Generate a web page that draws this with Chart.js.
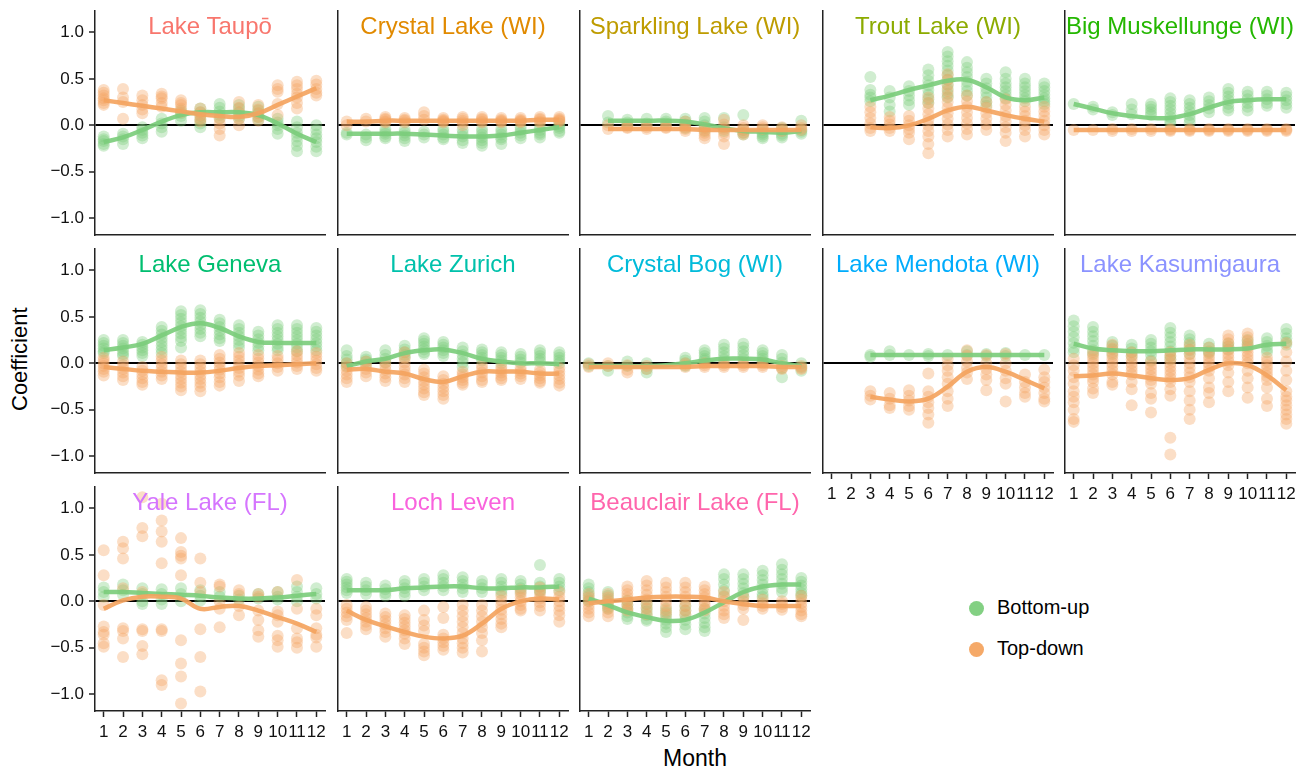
<!DOCTYPE html>
<html lang="en">
<head>
    <meta charset="UTF-8">
    <title>Bottom-up and top-down coefficients by month</title>
    <script src="https://cdn.jsdelivr.net/npm/chart.js"></script>
    <style>
        body { margin: 0; background: #fff; font-family: "Liberation Sans", Arial, Helvetica, sans-serif; }
        #wrap { position: relative; width: 1312px; height: 773px; overflow: hidden; }
        #wrap canvas { position: absolute; }
        .title { position: absolute; width: 230px; text-align: center; font-size: 24px; line-height: 26px; white-space: nowrap; }
        .axis-label { position: absolute; color: #000; white-space: nowrap; }
        .key { position: absolute; left: 969px; font-size: 20px; line-height: 24px; color: #000; }
        .key span { display: inline-block; width: 15px; height: 15px; border-radius: 50%; margin-right: 13px; vertical-align: -2px; }
    </style>
</head>
<body>
<div id="wrap">
    <div class="axis-label" style="left:-30px; top:349px; width:100px; text-align:center; font-size:22px; line-height:24px; transform:rotate(-90deg);">Coefficient</div>
    <div class="axis-label" style="left:645px; top:745px; width:100px; text-align:center; font-size:23px; line-height:26px;">Month</div>
    <div class="key" style="top:595px;"><span style="background:rgba(124,205,124,0.95)"></span>Bottom-up</div>
    <div class="key" style="top:636px;"><span style="background:rgba(244,164,96,0.95)"></span>Top-down</div>
</div>

<script>
    // x ticks and y ticks
    const months = [1, 2, 3, 4, 5, 6, 7, 8, 9, 10, 11, 12];
    const yTicks = [-1, -0.5, 0, 0.5, 1];

    const lakes = ['Lake Taupō', 'Crystal Lake (WI)', 'Sparkling Lake (WI)', 'Trout Lake (WI)', 'Big Muskellunge (WI)',
        'Lake Geneva', 'Lake Zurich', 'Crystal Bog (WI)', 'Lake Mendota (WI)', 'Lake Kasumigaura',
        'Yale Lake (FL)', 'Loch Leven', 'Beauclair Lake (FL)'];
    const titleColors = ['#F8766D', '#E18A00', '#BE9C00', '#8CAB00', '#24B700',
        '#00BE70', '#00C1AB', '#00BBDA', '#00ACFC', '#8B93FF',
        '#D575FE', '#F962DD', '#FF65AC'];

    // one inner list of coefficients per month; fits are the smoothed curves per month
    const taupoBottomUp = [[-0.12,-0.15,-0.17,-0.2,-0.22],[-0.09,-0.12,-0.15,-0.2],[-0.02,-0.05,-0.08,-0.11,-0.14],[0.07,0.02,-0.02,-0.07],[0.16,0.13,0.1,0.05],[0.18,0.14,0.1,0.06,0.02,-0.02],[0.23,0.19,0.15,0.11,0.08],[0.22,0.18,0.14,0.1,0.07],[0.2,0.16,0.13,0.09,0.06],[0.07,0.03,0.0,-0.04,-0.09],[0.04,-0.02,-0.08,-0.12,-0.17,-0.22,-0.28],[0.0,-0.05,-0.1,-0.14,-0.18,-0.23,-0.28]];
    const taupoTopDown = [[0.38,0.35,0.32,0.29,0.27,0.24,0.22],[0.39,0.3,0.25,0.07],[0.32,0.27,0.22,0.17,0.13],[0.34,0.31,0.29,0.24,0.2],[0.27,0.24,0.22,0.18,0.14],[0.18,0.14,0.11,0.07,0.04],[0.07,0.02,-0.04,-0.11],[0.25,0.19,0.14,0.07,0.0],[0.22,0.17,0.13,0.09,0.05],[0.43,0.39,0.36,0.23,0.11],[0.47,0.43,0.39,0.34,0.3,0.24,0.18],[0.48,0.44,0.39,0.35,0.32]];
    const taupoBottomUpFit = [-0.18,-0.13,-0.05,0.04,0.11,0.14,0.14,0.14,0.11,0.02,-0.09,-0.18];
    const taupoTopDownFit = [0.27,0.24,0.21,0.18,0.15,0.12,0.1,0.09,0.13,0.22,0.31,0.4];

    const crystalBottomUp = [[-0.08,-0.1],[-0.1,-0.13,-0.16],[-0.04,-0.07,-0.09,-0.12,-0.14],[-0.05,-0.08,-0.11,-0.14,-0.17],[-0.07,-0.1,-0.13],[-0.04,-0.07,-0.1,-0.13,-0.15],[-0.05,-0.09,-0.12,-0.16,-0.19],[-0.04,-0.07,-0.1,-0.13,-0.16,-0.19,-0.22],[-0.04,-0.07,-0.1,-0.13,-0.15,-0.2],[-0.02,-0.05,-0.08,-0.11,-0.14],[-0.02,-0.05,-0.08,-0.1,-0.13],[0.02,-0.01,-0.03,-0.06,-0.08]];
    const crystalTopDown = [[0.04,0.0],[0.07,0.04],[0.09,0.07,0.06,0.04,0.03],[0.08,0.06,0.05,0.03],[0.14,0.1,0.06],[0.08,0.06,0.05,0.04,0.03],[0.09,0.07,0.05,0.03,0.0],[0.09,0.07,0.06,0.04,0.03],[0.08,0.06,0.05,0.04,0.03],[0.08,0.06,0.05,0.04,0.03],[0.09,0.07,0.06,0.04,0.03],[0.09,0.07,0.06,0.05,0.04]];
    const crystalBottomUpFit = [-0.09,-0.09,-0.09,-0.09,-0.1,-0.11,-0.12,-0.12,-0.11,-0.08,-0.05,-0.02];
    const crystalTopDownFit = [0.04,0.04,0.05,0.05,0.05,0.05,0.05,0.05,0.05,0.05,0.06,0.06];

    const sparklingBottomUp = [[],[0.1,0.03],[0.06,0.03,0.0],[0.07,0.02],[0.07,0.04,0.02],[0.07,0.04,0.01,-0.03],[0.08,0.04,0.0,-0.03,-0.06],[0.08,-0.02,-0.06],[0.11,-0.05,-0.08,-0.1],[-0.05,-0.08,-0.1,-0.12,-0.14],[-0.03,-0.06,-0.09,-0.11,-0.13],[0.05,-0.05,-0.07,-0.09]];
    const sparklingTopDown = [[],[0.0,-0.04],[0.0,-0.02,-0.03],[0.0,-0.02,-0.04],[0.0,-0.02,-0.03],[0.04,0.01,-0.02,-0.04,-0.06],[-0.02,-0.05,-0.08,-0.11,-0.14],[0.06,0.01,-0.04,-0.08,-0.12,-0.2],[0.0,-0.03,-0.05,-0.08,-0.1],[0.0,-0.02,-0.04],[-0.02,-0.04,-0.06],[0.0,-0.03,-0.05]];
    const sparklingBottomUpFit = [null,0.05,0.05,0.05,0.05,0.04,0.01,-0.03,-0.06,-0.07,-0.08,-0.06];
    const sparklingTopDownFit = [null,-0.04,-0.04,-0.04,-0.04,-0.04,-0.05,-0.05,-0.05,-0.05,-0.05,-0.05];

    const troutBottomUp = [[],[],[0.52,0.38,0.33,0.3,0.26],[0.37,0.3,0.22,0.15],[0.42,0.37,0.32,0.27,0.22],[0.6,0.54,0.48,0.43,0.38,0.33,0.28,0.24],[0.79,0.74,0.69,0.64,0.59,0.54,0.49,0.44,0.39,0.34,0.3],[0.68,0.62,0.57,0.52,0.47,0.42,0.37,0.32],[0.5,0.45,0.4,0.35,0.3,0.25,0.21],[0.57,0.5,0.45,0.41,0.37,0.33,0.29],[0.5,0.45,0.41,0.37,0.33,0.29,0.26],[0.45,0.41,0.37,0.33,0.29,0.26,0.23]];
    const troutTopDown = [[],[],[0.2,0.14,0.08,0.02,-0.03,-0.06],[0.09,0.05,0.01,-0.03,-0.06],[0.1,0.05,0.0,-0.04,-0.08,-0.15],[0.3,0.24,0.18,0.12,0.06,0.0,-0.06,-0.12,-0.2,-0.3],[0.55,0.49,0.43,0.37,0.31,0.25,0.19,0.13,0.07,0.01,-0.05,-0.12],[0.32,0.26,0.2,0.14,0.08,0.02,-0.04,-0.1],[0.25,0.19,0.13,0.07,0.01,-0.05],[0.28,0.22,0.16,0.1,0.04,-0.02,-0.08,-0.17],[0.2,0.15,0.1,0.05,0.0,-0.05,-0.12],[0.2,0.15,0.1,0.05,0.0,-0.05,-0.1]];
    const troutBottomUpFit = [null,null,0.27,0.32,0.38,0.43,0.48,0.49,0.41,0.3,0.27,0.3];
    const troutTopDownFit = [null,null,-0.02,-0.03,0.0,0.07,0.16,0.2,0.16,0.11,0.07,0.04];

    const bigMuskBottomUp = [[0.23],[0.2,0.17],[0.14,0.11],[0.23,0.17,0.12],[0.23,0.2,0.17,0.14,0.11],[0.29,0.25,0.21,0.17,0.13,0.09,0.05,0.02],[0.27,0.23,0.19,0.15,0.11,0.07,0.03],[0.3,0.26,0.22,0.18,0.14],[0.39,0.35,0.31,0.27,0.23,0.19,0.16],[0.36,0.32,0.28,0.24,0.2,0.16],[0.36,0.32,0.28,0.24,0.21],[0.35,0.31,0.27,0.23,0.19]];
    const bigMuskTopDown = [[-0.05],[-0.05],[-0.04,-0.06],[-0.04,-0.06],[-0.04,-0.06],[-0.04,-0.05,-0.06],[-0.04,-0.05,-0.06],[-0.04,-0.05,-0.06],[-0.04,-0.05,-0.06],[-0.04,-0.05,-0.06],[-0.04,-0.05,-0.06],[-0.04,-0.05,-0.06]];
    const bigMuskBottomUpFit = [0.23,0.18,0.13,0.1,0.08,0.08,0.12,0.19,0.25,0.27,0.28,0.28];
    const bigMuskTopDownFit = [-0.05,-0.05,-0.05,-0.05,-0.05,-0.05,-0.05,-0.05,-0.05,-0.05,-0.05,-0.05];

    const genevaBottomUp = [[0.25,0.22,0.19,0.16,0.13,0.11],[0.25,0.22,0.19,0.16,0.13,0.1,0.08],[0.23,0.2,0.17,0.14,0.11,0.08],[0.39,0.35,0.31,0.27,0.23,0.19,0.15,0.11],[0.56,0.52,0.48,0.44,0.4,0.36,0.32,0.28,0.24,0.17],[0.57,0.53,0.49,0.45,0.41,0.37,0.33,0.29],[0.47,0.43,0.39,0.35,0.31,0.27,0.24],[0.41,0.37,0.33,0.29,0.25,0.21,0.17],[0.34,0.3,0.26,0.22,0.18,0.14],[0.41,0.37,0.33,0.29,0.25,0.21,0.17,0.14],[0.41,0.37,0.33,0.29,0.25,0.21,0.17,0.13],[0.38,0.34,0.3,0.26,0.22,0.18,0.14]];
    const genevaTopDown = [[0.06,0.03,0.0,-0.03,-0.06,-0.09,-0.13],[0.02,-0.02,-0.06,-0.1,-0.14,-0.18],[-0.04,-0.08,-0.12,-0.16,-0.2,-0.23],[0.07,0.03,-0.01,-0.05,-0.09,-0.13,-0.17],[0.03,-0.01,-0.05,-0.09,-0.13,-0.17,-0.21,-0.25,-0.29],[0.03,-0.01,-0.05,-0.09,-0.13,-0.17,-0.21,-0.25,-0.3],[0.09,0.05,0.01,-0.03,-0.07,-0.11,-0.15,-0.2,-0.24],[0.11,0.07,0.03,-0.01,-0.05,-0.09,-0.13,-0.19],[0.09,0.05,0.01,-0.03,-0.07,-0.11,-0.14],[0.08,0.04,0.0,-0.04,-0.08],[0.13,0.09,0.05,0.01,-0.03,-0.06],[0.11,0.07,0.03,-0.01,-0.05,-0.08]];
    const genevaBottomUpFit = [0.14,0.17,0.21,0.3,0.39,0.43,0.38,0.29,0.23,0.22,0.22,0.22];
    const genevaTopDownFit = [-0.04,-0.06,-0.08,-0.09,-0.1,-0.1,-0.08,-0.05,-0.03,-0.02,-0.01,0.0];

    const zurichBottomUp = [[0.14,0.08,0.04,0.0,-0.03],[0.07,0.04,0.02,-0.01],[0.14,0.09,0.05,0.01],[0.19,0.15,0.12,0.09,0.06],[0.27,0.24,0.21,0.18,0.15,0.12,0.1],[0.23,0.2,0.17,0.14,0.11,0.08],[0.17,0.13,0.09,0.05,0.01,-0.04],[0.15,0.12,0.09,0.06,0.03],[0.12,0.09,0.06,0.03,0.0],[0.1,0.07,0.04,0.01],[0.14,0.11,0.08,0.05,0.02],[0.12,0.09,0.06,0.03,0.0]];
    const zurichTopDown = [[0.0,-0.04,-0.08,-0.12,-0.16,-0.2],[0.02,-0.02,-0.06,-0.1,-0.14],[0.01,-0.03,-0.07,-0.11,-0.15,-0.19],[0.12,0.06,0.01,-0.04,-0.08,-0.12,-0.16,-0.2],[-0.07,-0.11,-0.15,-0.19,-0.23,-0.27,-0.31,-0.34],[-0.14,-0.18,-0.22,-0.26,-0.3,-0.34,-0.38],[-0.09,-0.12,-0.15,-0.18,-0.21,-0.23],[-0.02,-0.06,-0.1,-0.14,-0.18,-0.2],[-0.04,-0.07,-0.1,-0.13,-0.16,-0.18],[-0.05,-0.08,-0.11,-0.14,-0.17],[-0.07,-0.1,-0.13,-0.16,-0.19,-0.21],[-0.05,-0.09,-0.13,-0.17,-0.21,-0.24]];
    const zurichBottomUpFit = [-0.03,0.02,0.05,0.11,0.14,0.15,0.11,0.05,0.02,0.0,0.0,-0.01];
    const zurichTopDownFit = [-0.07,-0.06,-0.09,-0.11,-0.17,-0.2,-0.14,-0.09,-0.09,-0.09,-0.11,-0.11];

    const bogBottomUp = [[0.0,-0.03],[-0.03,-0.08],[0.02,-0.03],[0.0,-0.06,-0.1],[],[0.06,0.03,0.0,-0.03],[0.14,0.11,0.08,0.05,0.03],[0.2,0.16,0.12,0.08,0.04],[0.21,0.17,0.13,0.09,0.05],[0.14,0.11,0.08,0.05,0.02],[0.09,0.05,0.01,-0.05,-0.15],[0.0,-0.04,-0.08]];
    const bogTopDown = [[-0.01,-0.04],[0.0,-0.03],[-0.02,-0.07,-0.1],[-0.03,-0.06],[],[0.0,-0.02,-0.04],[0.0,-0.02,-0.04],[0.0,-0.02,-0.04],[0.0,-0.02,-0.04],[0.0,-0.02,-0.04],[-0.03,-0.05,-0.06],[-0.03,-0.05,-0.06]];
    const bogBottomUpFit = [-0.03,-0.03,-0.03,-0.03,-0.02,0.0,0.03,0.05,0.05,0.04,0.0,-0.03];
    const bogTopDownFit = [-0.04,-0.04,-0.04,-0.04,-0.04,-0.04,-0.03,-0.03,-0.03,-0.03,-0.04,-0.04];

    const mendotaBottomUp = [[],[],[0.09,0.07],[0.13,0.09],[0.09],[0.1,0.08],[0.09],[0.13,0.09],[0.1,0.08],[0.11,0.08],[0.09],[0.09]];
    const mendotaTopDown = [[],[],[-0.3,-0.35,-0.39],[-0.32,-0.38,-0.45,-0.48],[-0.29,-0.35,-0.4,-0.46,-0.5],[-0.11,-0.3,-0.36,-0.42,-0.48,-0.55,-0.64],[0.05,-0.02,-0.08,-0.15,-0.22,-0.3,-0.38,-0.46],[0.14,0.08,0.02,-0.05,-0.1,-0.17],[0.09,0.0,-0.06,-0.12,-0.18,-0.29],[0.1,0.0,-0.08,-0.16,-0.22,-0.41],[-0.12,-0.2,-0.26,-0.32,-0.36],[-0.07,-0.15,-0.2,-0.26,-0.32,-0.38,-0.41]];
    const mendotaBottomUpFit = [null,null,0.09,0.09,0.09,0.09,0.09,0.09,0.09,0.09,0.09,0.09];
    const mendotaTopDownFit = [null,null,-0.36,-0.39,-0.41,-0.38,-0.25,-0.09,-0.04,-0.09,-0.18,-0.27];

    const kasumigauraBottomUp = [[0.46,0.4,0.34,0.28,0.22,0.16,0.12],[0.39,0.34,0.29,0.24,0.19,0.14,0.1],[0.23,0.19,0.15,0.1],[0.2,0.16,0.12,0.08],[0.25,0.21,0.17,0.13,0.09,0.03],[0.38,0.33,0.28,0.23,0.18,0.13,0.08,0.04],[0.3,0.26,0.22,0.18,0.14,0.1],[0.21,0.17,0.13,0.11],[0.21,0.18,0.15],[0.25,0.21,0.18],[0.27,0.23,0.19,0.15,0.12],[0.37,0.32,0.27,0.23,0.2]];
    const kasumigauraTopDown = [[0.05,-0.02,-0.08,-0.15,-0.22,-0.3,-0.36,-0.42,-0.5,-0.6,-0.63],[0.12,0.08,0.04,0.0,-0.04,-0.08,-0.12,-0.16,-0.2,-0.27,-0.32],[0.2,0.16,0.12,0.08,0.04,0.0,-0.04,-0.08,-0.12,-0.2,-0.23],[0.12,0.08,0.04,0.0,-0.04,-0.08,-0.12,-0.2,-0.28,-0.45],[0.02,-0.02,-0.06,-0.1,-0.14,-0.18,-0.22,-0.32,-0.38,-0.53],[0.12,0.08,0.04,0.0,-0.04,-0.08,-0.12,-0.16,-0.2,-0.28,-0.35,-0.8,-0.98],[0.2,0.15,0.1,0.05,0.0,-0.05,-0.1,-0.15,-0.2,-0.3,-0.4,-0.5,-0.6],[0.17,0.12,0.08,0.04,0.0,-0.04,-0.08,-0.16,-0.26,-0.32,-0.42],[0.3,0.26,0.22,0.18,0.14,0.1,0.06,0.02,-0.02,-0.1,-0.2,-0.3],[0.32,0.28,0.24,0.2,0.16,0.12,0.08,0.04,0.0,-0.08,-0.16,-0.26,-0.37],[0.06,0.02,-0.02,-0.06,-0.1,-0.14,-0.18,-0.26,-0.38,-0.46],[0.22,0.12,0.02,-0.08,-0.18,-0.3,-0.36,-0.4,-0.45,-0.5,-0.55,-0.6,-0.65]];
    const kasumigauraBottomUpFit = [0.21,0.16,0.14,0.13,0.13,0.14,0.15,0.15,0.15,0.16,0.2,0.21];
    const kasumigauraTopDownFit = [-0.14,-0.13,-0.11,-0.13,-0.16,-0.18,-0.16,-0.07,0.0,-0.02,-0.13,-0.29];

    const yaleBottomUp = [[0.15,0.1,0.05],[0.18,0.12,0.07],[0.14,0.08,0.0,-0.03],[0.13,0.08,0.02,-0.03],[0.14,0.08,0.0],[0.12,0.06,0.01],[0.1,0.05],[0.06,0.02],[0.08,0.03],[0.1,0.05,0.02],[0.16,0.1,0.05,0.0],[0.14,0.08,0.03]];
    const yaleTopDown = [[0.55,0.28,-0.04,-0.27,-0.33,-0.36,-0.45,-0.49],[0.64,0.57,0.46,0.14,-0.29,-0.32,-0.4,-0.6],[1.12,0.79,0.7,0.1,-0.3,-0.32,-0.48,-0.57],[1.05,0.87,0.75,0.64,0.41,-0.3,-0.32,-0.85,-0.9],[0.68,0.53,0.49,0.46,0.28,-0.42,-0.67,-0.81,-1.1],[0.46,0.2,0.1,-0.3,-0.6,-0.97],[0.18,0.16,0.0,-0.08,-0.28],[0.12,0.08,-0.05,-0.15],[0.08,0.05,-0.1,-0.2,-0.31,-0.38],[0.1,-0.11,-0.15,-0.22,-0.37,-0.42,-0.49],[0.23,-0.08,-0.29,-0.4,-0.44,-0.5],[-0.08,-0.15,-0.29,-0.36,-0.39,-0.49]];
    const yaleBottomUpFit = [0.1,0.1,0.09,0.08,0.07,0.06,0.04,0.03,0.03,0.04,0.06,0.08];
    const yaleTopDownFit = [-0.08,0.01,0.05,0.05,0.03,-0.08,-0.06,-0.05,-0.1,-0.17,-0.24,-0.33];

    const lochBottomUp = [[0.24,0.21,0.18,0.15,0.12,0.09],[0.2,0.16,0.12,0.08],[0.17,0.13,0.09,0.06],[0.22,0.18,0.14,0.1,0.06],[0.24,0.2,0.16,0.12],[0.28,0.24,0.2,0.16,0.12],[0.26,0.22,0.18,0.14,0.1],[0.22,0.18,0.14,0.1],[0.24,0.2,0.16,0.12,0.09],[0.22,0.18,0.14,0.1],[0.39,0.2,0.16,0.12,0.1],[0.24,0.2,0.16,0.12]];
    const lochTopDown = [[-0.04,-0.08,-0.12,-0.16,-0.2,-0.34],[-0.06,-0.1,-0.14,-0.18,-0.22,-0.26,-0.3],[-0.13,-0.17,-0.21,-0.25,-0.29,-0.33,-0.38],[-0.15,-0.19,-0.23,-0.27,-0.31,-0.35,-0.4,-0.46],[-0.1,-0.2,-0.26,-0.32,-0.46,-0.5,-0.54,-0.58],[-0.06,-0.18,-0.36,-0.4,-0.44,-0.48,-0.52],[-0.04,-0.1,-0.16,-0.22,-0.28,-0.34,-0.4,-0.45,-0.5,-0.55],[-0.04,-0.1,-0.16,-0.22,-0.28,-0.34,-0.42,-0.54],[0.06,0.01,-0.04,-0.09,-0.14,-0.19,-0.24,-0.28],[0.12,0.08,0.04,0.0,-0.04,-0.08,-0.1],[0.15,0.11,0.07,0.03,-0.01,-0.05,-0.1],[0.1,0.05,0.0,-0.05,-0.1,-0.15,-0.22]];
    const lochBottomUpFit = [0.12,0.12,0.12,0.14,0.15,0.16,0.16,0.14,0.14,0.15,0.15,0.16];
    const lochTopDownFit = [-0.1,-0.2,-0.27,-0.33,-0.38,-0.4,-0.37,-0.24,-0.08,0.0,0.03,0.02];

    const beauclairBottomUp = [[0.18,0.14,0.1,0.06,0.02,0.0],[0.1,0.06,0.02,-0.02,-0.06,-0.08],[0.01,-0.04,-0.08,-0.12,-0.16,-0.19],[-0.03,-0.07,-0.11,-0.15,-0.19,-0.21],[-0.08,-0.12,-0.16,-0.2,-0.24,-0.28,-0.33],[-0.05,-0.1,-0.15,-0.2,-0.25,-0.3],[-0.08,-0.13,-0.18,-0.23,-0.28,-0.32],[0.29,0.24,0.18,0.12,0.06],[0.29,0.24,0.19,0.14,0.09,0.05],[0.33,0.28,0.23,0.18,0.13,0.08,0.05],[0.4,0.34,0.29,0.24,0.19,0.14,0.1],[0.25,0.21,0.17,0.13,0.09,0.06]];
    const beauclairTopDown = [[0.08,0.04,0.0,-0.04,-0.08,-0.12,-0.16],[0.08,0.04,0.0,-0.04,-0.08,-0.12,-0.16],[0.16,0.12,0.08,0.04,0.0,-0.04,-0.08,-0.1],[0.22,0.17,0.12,0.07,0.02,-0.03,-0.08,-0.14],[0.2,0.15,0.1,0.05,0.0,-0.05,-0.1,-0.14],[0.2,0.15,0.1,0.05,0.0,-0.05,-0.1,-0.14],[0.16,0.12,0.08,0.04,0.0,-0.04,-0.08,-0.1],[0.1,0.05,0.0,-0.05,-0.1,-0.14,-0.18],[0.05,0.0,-0.04,-0.08,-0.2],[0.02,-0.02,-0.05,-0.08],[0.0,-0.03,-0.06,-0.09],[0.06,0.02,-0.02,-0.06,-0.1,-0.14,-0.16]];
    const beauclairBottomUpFit = [0.03,-0.04,-0.12,-0.17,-0.21,-0.2,-0.12,-0.01,0.1,0.16,0.18,0.18];
    const beauclairTopDownFit = [-0.02,0.0,0.02,0.04,0.05,0.05,0.04,0.0,-0.03,-0.05,-0.05,-0.05];

    const bottomUpSets = [taupoBottomUp, crystalBottomUp, sparklingBottomUp, troutBottomUp, bigMuskBottomUp, genevaBottomUp, zurichBottomUp, bogBottomUp, mendotaBottomUp, kasumigauraBottomUp, yaleBottomUp, lochBottomUp, beauclairBottomUp];
    const topDownSets = [taupoTopDown, crystalTopDown, sparklingTopDown, troutTopDown, bigMuskTopDown, genevaTopDown, zurichTopDown, bogTopDown, mendotaTopDown, kasumigauraTopDown, yaleTopDown, lochTopDown, beauclairTopDown];
    const bottomUpFits = [taupoBottomUpFit, crystalBottomUpFit, sparklingBottomUpFit, troutBottomUpFit, bigMuskBottomUpFit, genevaBottomUpFit, zurichBottomUpFit, bogBottomUpFit, mendotaBottomUpFit, kasumigauraBottomUpFit, yaleBottomUpFit, lochBottomUpFit, beauclairBottomUpFit];
    const topDownFits = [taupoTopDownFit, crystalTopDownFit, sparklingTopDownFit, troutTopDownFit, bigMuskTopDownFit, genevaTopDownFit, zurichTopDownFit, bogTopDownFit, mendotaTopDownFit, kasumigauraTopDownFit, yaleTopDownFit, lochTopDownFit, beauclairTopDownFit];

    const GREEN = '124, 205, 124';
    const ORANGE = '244, 164, 96';

    Chart.defaults.font.family = '"Liberation Sans", Arial, Helvetica, sans-serif';
    Chart.defaults.color = '#111';

    // flatten month lists into scatter points
    function toPoints(sets) {
        return sets.flatMap((vals, k) => vals.map(v => ({ x: months[k], y: v })));
    }
    function toLine(fit) {
        return fit.map((v, k) => ({ x: months[k], y: v })).filter(p => p.y !== null);
    }
    function fmt(v) {
        return (v < 0 ? '\u2212' : '') + Math.abs(v).toFixed(1);
    }

    const wrap = document.getElementById('wrap');
    const PLOT_W = 230, PLOT_H = 224, Y_W = 55, X_H = 45;

    lakes.forEach((name, i) => {
        const col = i % 5, row = Math.floor(i / 5);
        const left = Math.round(95 + col * 242.5), top = 11 + row * 238;
        const showY = col === 0;
        const showX = row === 2 || (row === 1 && col >= 3);

        const canvas = document.createElement('canvas');
        canvas.width = Y_W + PLOT_W + 6;
        canvas.height = 2 + PLOT_H + X_H;
        canvas.style.left = (left - Y_W) + 'px';
        canvas.style.top = (top - 2) + 'px';
        wrap.appendChild(canvas);

        const title = document.createElement('div');
        title.className = 'title';
        title.style.left = left + 'px';
        title.style.top = (top + 2) + 'px';
        title.style.color = titleColors[i];
        title.textContent = name;
        wrap.appendChild(title);

        new Chart(canvas, {
            type: 'scatter',
            data: {
                datasets: [
                    { label: 'Top-down fit', data: toLine(topDownFits[i]), showLine: true, borderColor: `rgba(${ORANGE}, 0.92)`, borderWidth: 4.5, pointRadius: 0, tension: 0.4, order: 0 },
                    { label: 'Bottom-up fit', data: toLine(bottomUpFits[i]), showLine: true, borderColor: `rgba(${GREEN}, 0.92)`, borderWidth: 4.5, pointRadius: 0, tension: 0.4, order: 1 },
                    { label: 'Top-down', data: toPoints(topDownSets[i]), backgroundColor: `rgba(${ORANGE}, 0.36)`, borderWidth: 0, pointRadius: 6, order: 2 },
                    { label: 'Bottom-up', data: toPoints(bottomUpSets[i]), backgroundColor: `rgba(${GREEN}, 0.36)`, borderWidth: 0, pointRadius: 6, order: 3 }
                ]
            },
            options: {
                responsive: false,
                animation: false,
                events: [],
                layout: { autoPadding: false, padding: { top: 2, right: 6, left: 0, bottom: 0 } },
                plugins: { legend: { display: false }, tooltip: { enabled: false } },
                scales: {
                    x: {
                        type: 'linear', min: 0.55, max: 12.45,
                        afterBuildTicks: s => { s.ticks = months.map(v => ({ value: v })); },
                        afterFit: s => { s.height = X_H; s.paddingLeft = 0; s.paddingRight = 0; },
                        border: { display: true, color: '#222', width: 1.5 },
                        grid: { drawOnChartArea: false, drawTicks: showX, tickLength: 6, tickColor: '#222', tickWidth: 1.5 },
                        ticks: { display: showX, autoSkip: false, maxRotation: 0, padding: 5, color: '#111', font: { size: 17 } }
                    },
                    y: {
                        min: -1.18, max: 1.23,
                        afterBuildTicks: s => { s.ticks = yTicks.map(v => ({ value: v })); },
                        afterFit: s => { s.width = Y_W; s.paddingTop = 0; s.paddingBottom = 0; },
                        border: { display: true, color: '#222', width: 1.5 },
                        grid: {
                            color: c => (c.tick && c.tick.value === 0 ? '#000' : 'rgba(0,0,0,0)'),
                            lineWidth: 2,
                            drawTicks: showY, tickLength: 6, tickColor: '#222', tickWidth: 1.5
                        },
                        ticks: { display: showY, padding: 5, color: '#111', font: { size: 17 }, callback: v => fmt(v) }
                    }
                }
            }
        });
    });
</script>
</body>
</html>
